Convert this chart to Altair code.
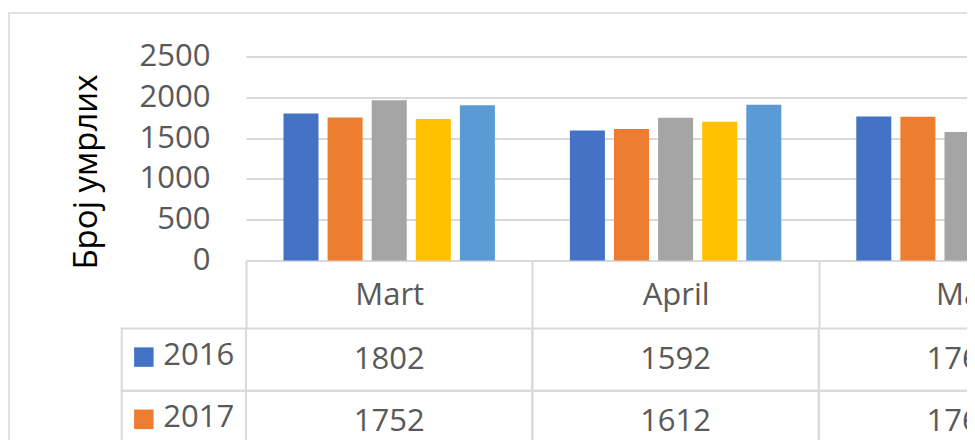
import altair as alt
import pandas as pd

# ---- data ----
months = ["Mart", "April", "Maj"]
years = ["2016", "2017", "2018", "2019", "2020"]
v2016 = [1802, 1592, 1764]
v2017 = [1752, 1612, 1762]
v2018 = [1963, 1750, 1575]
v2019 = [1734, 1701, 1650]
v2020 = [1902, 1909, 1700]
colors = ["#4472C4", "#ED7D31", "#A5A5A5", "#FFC000", "#5B9BD5"]
y_ticks = [0, 500, 1000, 1500, 2000, 2500]
y_title = "Број умрлих"

series = {"2016": v2016, "2017": v2017, "2018": v2018, "2019": v2019, "2020": v2020}
rows = []
for yr in years:
    for m, v in zip(months, series[yr]):
        rows.append({"month": m, "year": yr, "value": v, "label": str(v)})
df = pd.DataFrame(rows)
labdf = pd.DataFrame({"year": years, "col": ["label"] * len(years)})
framedf = pd.DataFrame({"k": [0]})

FONT = "Open Sans"
GRID = "#d9d9d9"
TXT = "#595959"

xscale = alt.Scale(domain=months, range=[0, 859.2], paddingInner=0, paddingOuter=0)
yrows = alt.Scale(domain=years, range=[272, 583], paddingInner=0, paddingOuter=0)
labscale = alt.Scale(domain=["label"], range=[-124.3, 0], paddingInner=0, paddingOuter=0)
cscale = alt.Scale(domain=years, range=colors)

frame = alt.Chart(framedf).mark_rect(fillOpacity=0, stroke=GRID, strokeWidth=1.5).encode(
    x=alt.value(-237), x2=alt.value(800), y=alt.value(-43.5), y2=alt.value(500)
)

bars = alt.Chart(df).mark_bar().encode(
    x=alt.X("month:N", sort=months, scale=xscale,
            axis=alt.Axis(title=None, labelFont=FONT, labelFontSize=31, labelColor=TXT,
                          labelAngle=0, labelBaseline="middle", labelPadding=-33.5,
                          domainColor=GRID, domainWidth=2, tickColor=GRID, tickWidth=2,
                          tickSize=68, tickBand="extent", grid=False)),
    xOffset=alt.XOffset("year:N", sort=years, scale=alt.Scale(paddingInner=0.206, paddingOuter=0.85)),
    y=alt.Y("value:Q", scale=alt.Scale(domain=[0, 2500]),
            axis=alt.Axis(values=y_ticks, format="d", title=y_title, domain=False, ticks=False,
                          tickSize=0, labelPadding=36, labelFont=FONT, labelFontSize=31,
                          labelColor=TXT, gridColor=GRID, gridWidth=2,
                          titleFont=FONT, titleFontSize=33, titleColor="#000000",
                          titleFontWeight="normal", titleAngle=270, titleAlign="center",
                          titleBaseline="alphabetic", titleX=-150, titleY=115)),
    color=alt.Color("year:N", sort=years, scale=cscale, legend=None),
)

cells = alt.Chart(df).mark_rect(fillOpacity=0, stroke=GRID, strokeWidth=2).encode(
    x=alt.X("month:N", scale=xscale, axis=None),
    y=alt.Y("year:N", scale=yrows, axis=None),
)
cell_text = alt.Chart(df).mark_text(font=FONT, fontSize=31, color=TXT, baseline="middle").encode(
    x=alt.X("month:N", scale=xscale, axis=None),
    y=alt.Y("year:N", scale=yrows, axis=None),
    text="label:N",
)
lab_rect = alt.Chart(labdf).mark_rect(fillOpacity=0, stroke=GRID, strokeWidth=2).encode(
    x=alt.X("col:N", scale=labscale, axis=None),
    y=alt.Y("year:N", scale=yrows, axis=None),
)
lab_sq = alt.Chart(labdf).mark_square(size=380, opacity=1, xOffset=-40, yOffset=-2.5).encode(
    x=alt.X("col:N", scale=labscale, axis=None),
    y=alt.Y("year:N", scale=yrows, axis=None),
    color=alt.Color("year:N", scale=cscale, legend=None),
)
lab_txt = alt.Chart(labdf).mark_text(font=FONT, fontSize=31, color=TXT, align="left",
                                     baseline="middle", dx=-20.5, dy=-4).encode(
    x=alt.X("col:N", scale=labscale, axis=None),
    y=alt.Y("year:N", scale=yrows, axis=None),
    text="year:N",
)

chart = alt.layer(frame, bars, cells, cell_text, lab_rect, lab_sq, lab_txt).resolve_scale(
    x="independent", y="independent"
).properties(
    width=721, height=204,
    padding={"left": 238, "top": 48.5, "right": 0, "bottom": 179.5},
    autosize=alt.AutoSizeParams(type="none"),
).configure_view(stroke=None)

chart.save("out.html", embed_options={"renderer": "svg", "actions": False})
